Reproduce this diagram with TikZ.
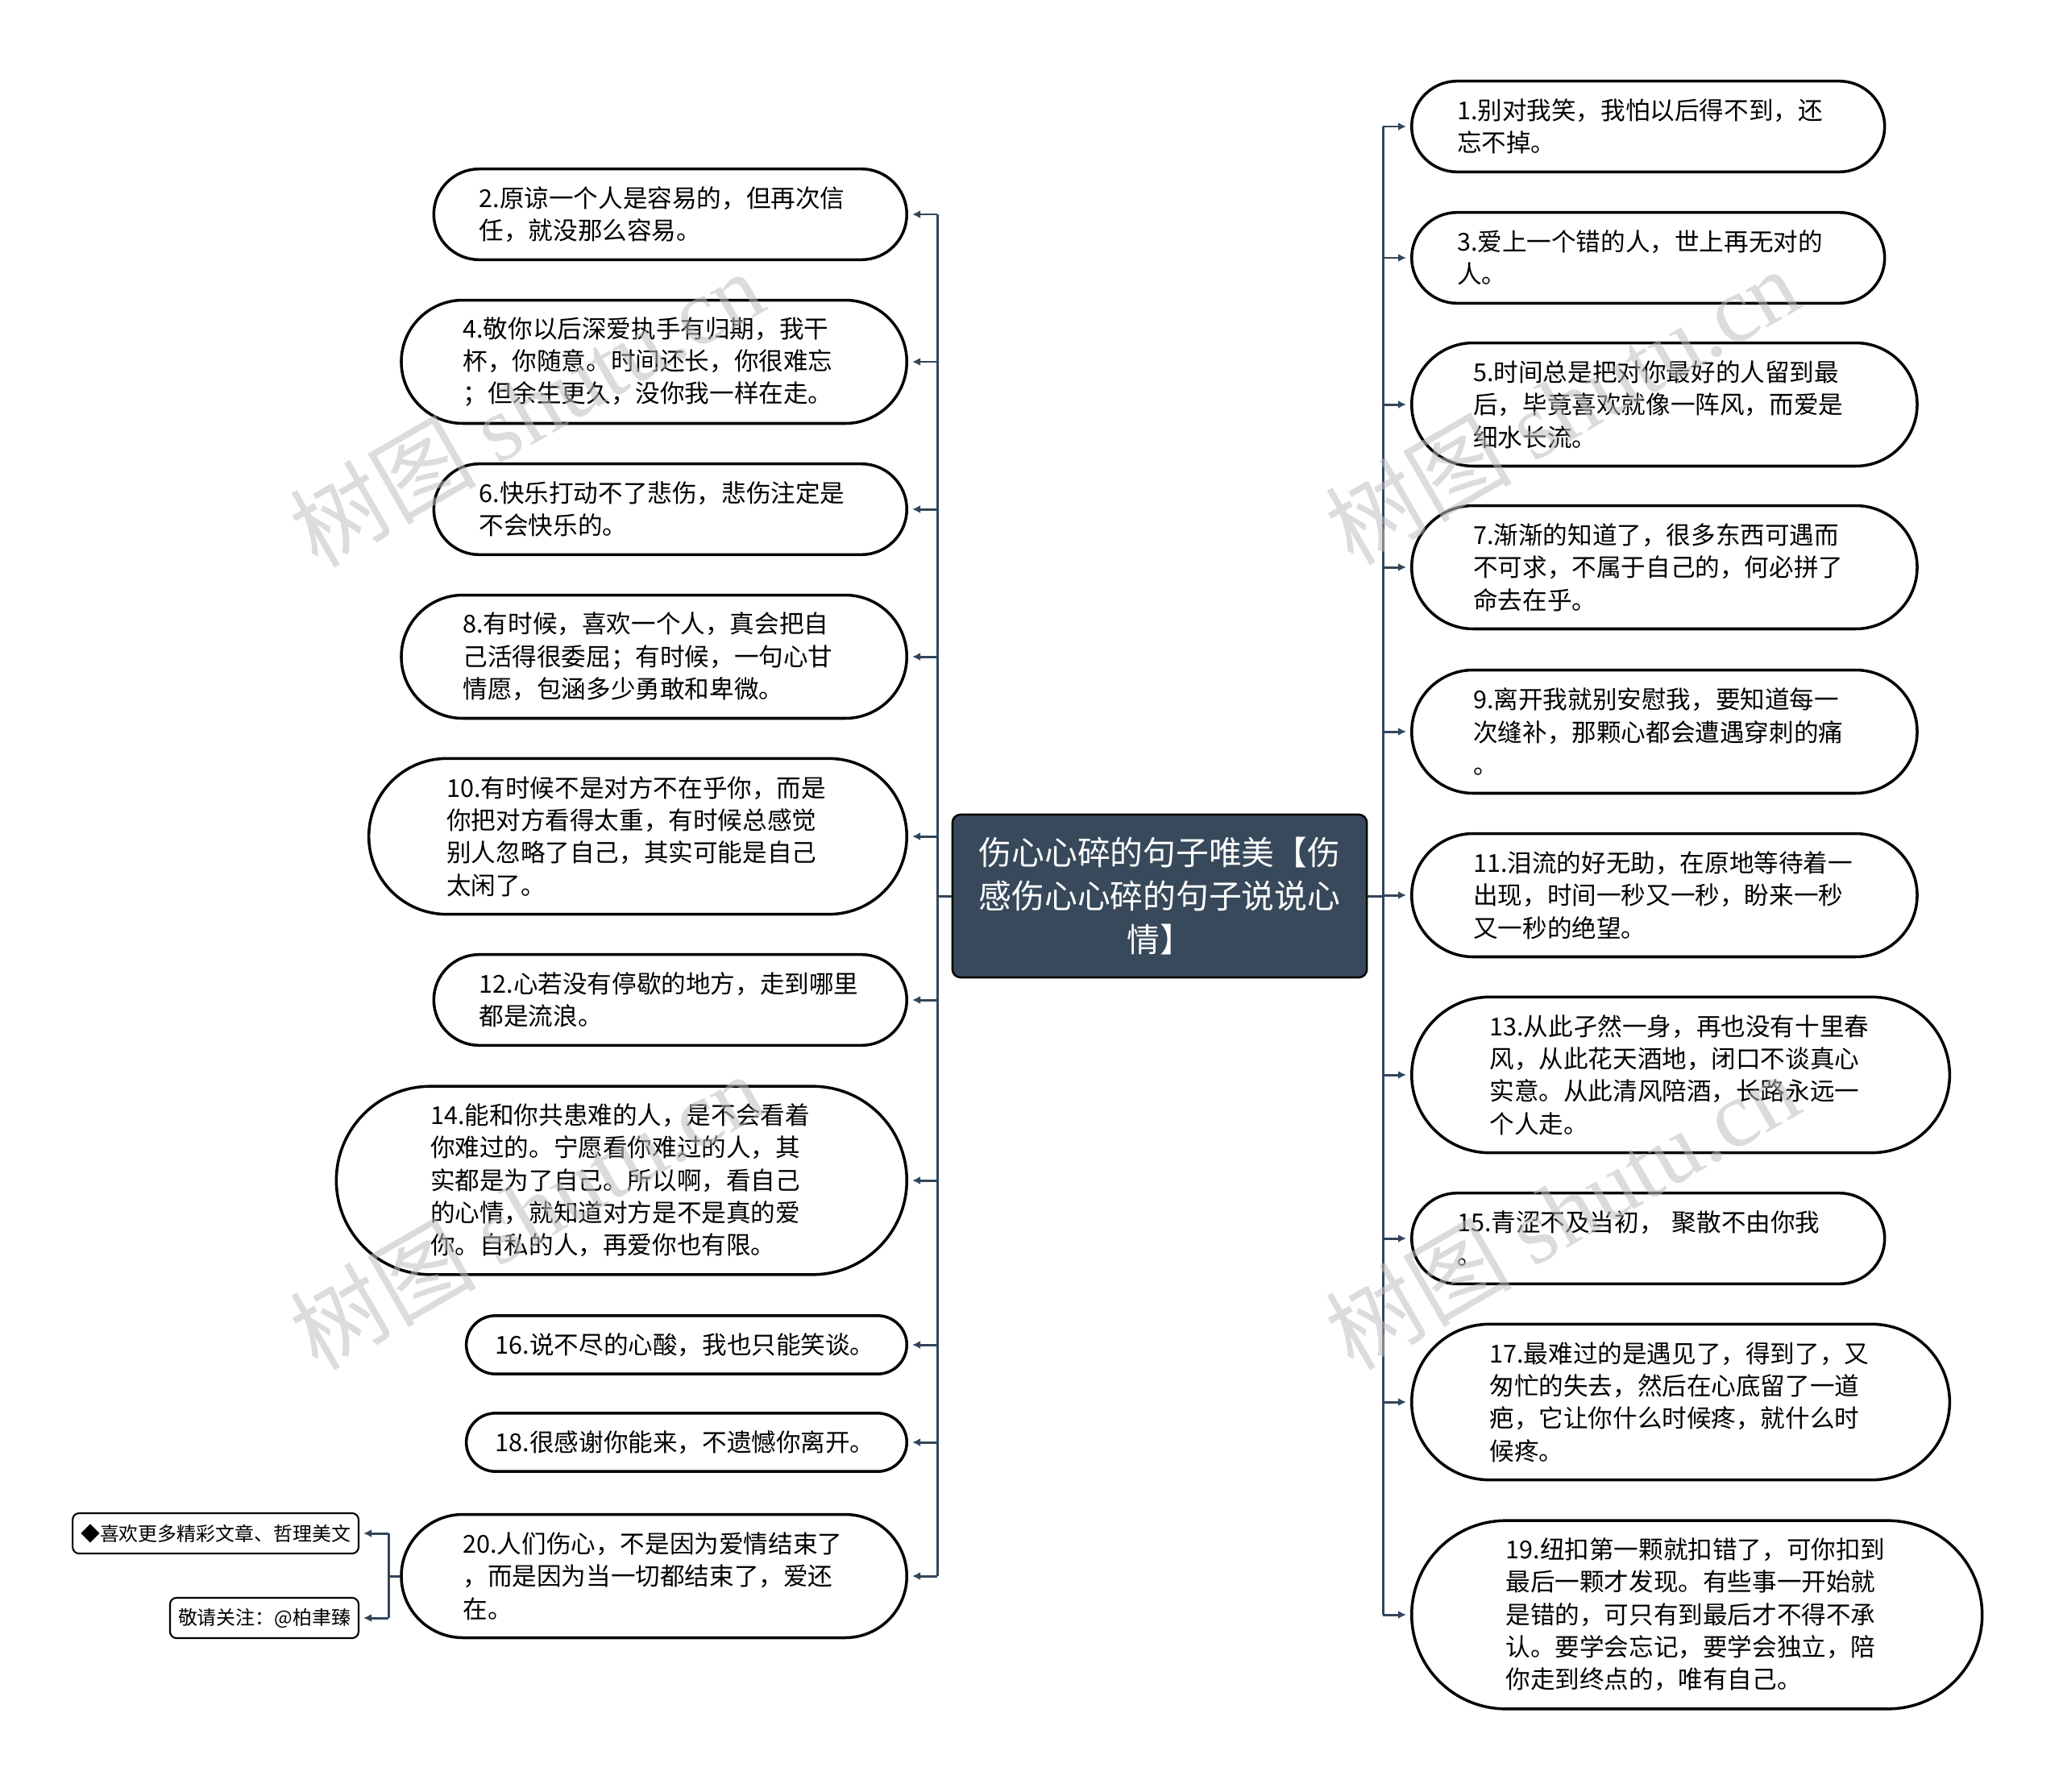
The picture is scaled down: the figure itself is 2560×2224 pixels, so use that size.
\documentclass[tikz,border=0pt]{standalone}
\usepackage{fontspec}
\setmainfont{Noto Sans CJK SC}
\newfontfamily\wmlatin{Liberation Serif}
\usetikzlibrary{arrows.meta}
\definecolor{slate}{RGB}{50,70,90}
\definecolor{hubfill}{RGB}{55,73,90}
\begin{document}
\begin{tikzpicture}[x=0.01cm,y=-0.01cm,
  >={Latex[length=0.1cm,width=0.1cm]},
  item/.style={draw=black,line width=1pt,fill=white,
    text width=4.74cm,inner xsep=0pt,inner ysep=0pt,align=left,
    font=\fontsize{8.7}{11.47}\selectfont,
    minimum height={0.32cm+#1*0.403cm},minimum width={5.06cm+#1*0.403cm},
    rounded corners={0.16cm+#1*0.2015cm}},
  hub/.style={draw=black,line width=0.7pt,fill=hubfill,text=white,rounded corners=0.1cm,
    minimum width=5.14cm,minimum height=2.02cm,text width=4.8cm,align=center,
    font=\fontsize{11.6}{15.3}\selectfont},
  tag/.style={draw=black,line width=0.6pt,fill=white,rounded corners=0.08cm,
    minimum height=0.5cm,inner xsep=0.1cm,font=\fontsize{6.8}{8}\selectfont},
  link/.style={slate,line width=0.85pt},
  wmark/.style={rotate=30,text=black!25,opacity=0.55,font=\fontsize{33}{36}\selectfont}]
\useasboundingbox (0,0) rectangle (2560,2224);

\node[hub] (hub) at (1439,1112) {伤心心碎的句子唯美【伤\\感伤心心碎的句子说说心\\情】};

% left side
\node[item=2,anchor=east] (l2) at (1127,266) {2.原谅一个人是容易的，但再次信\\任，就没那么容易。};
\node[item=3,anchor=east] (l4) at (1127,449) {4.敬你以后深爱执手有归期，我干\\杯，你随意。时间还长，你很难忘\\；但余生更久，没你我一样在走。};
\node[item=2,anchor=east] (l6) at (1127,632) {6.快乐打动不了悲伤，悲伤注定是\\不会快乐的。};
\node[item=3,anchor=east] (l8) at (1127,815) {8.有时候，喜欢一个人，真会把自\\己活得很委屈；有时候，一句心甘\\情愿，包涵多少勇敢和卑微。};
\node[item=4,anchor=east] (l10) at (1127,1038) {10.有时候不是对方不在乎你，而是\\你把对方看得太重，有时候总感觉\\别人忽略了自己，其实可能是自己\\太闲了。};
\node[item=2,anchor=east] (l12) at (1127,1241) {12.心若没有停歇的地方，走到哪里\\都是流浪。};
\node[item=5,anchor=east] (l14) at (1127,1465) {14.能和你共患难的人，是不会看着\\你难过的。宁愿看你难过的人，其\\实都是为了自己。所以啊，看自己\\的心情，就知道对方是不是真的爱\\你。自私的人，再爱你也有限。};
\node[item=1,anchor=east] (l16) at (1127,1669) {16.说不尽的心酸，我也只能笑谈。};
\node[item=1,anchor=east] (l18) at (1127,1790) {18.很感谢你能来，不遗憾你离开。};
\node[item=3,anchor=east] (l20) at (1127,1956) {20.人们伤心，不是因为爱情结束了\\，而是因为当一切都结束了，爱还\\在。};

\node[tag,anchor=east] (tagA) at (446,1903) {◆喜欢更多精彩文章、哲理美文};
\node[tag,anchor=east] (tagB) at (446,2008) {敬请关注：@柏聿臻};

% right side
\node[item=2,anchor=west] (r1) at (1750,157) {1.别对我笑，我怕以后得不到，还\\忘不掉。};
\node[item=2,anchor=west] (r3) at (1750,320) {3.爱上一个错的人，世上再无对的\\人。};
\node[item=3,anchor=west] (r5) at (1750,502) {5.时间总是把对你最好的人留到最\\后，毕竟喜欢就像一阵风，而爱是\\细水长流。};
\node[item=3,anchor=west] (r7) at (1750,704) {7.渐渐的知道了，很多东西可遇而\\不可求，不属于自己的，何必拼了\\命去在乎。};
\node[item=3,anchor=west] (r9) at (1750,908) {9.离开我就别安慰我，要知道每一\\次缝补，那颗心都会遭遇穿刺的痛\\。};
\node[item=3,anchor=west] (r11) at (1750,1111) {11.泪流的好无助，在原地等待着一\\出现，时间一秒又一秒，盼来一秒\\又一秒的绝望。};
\node[item=4,anchor=west] (r13) at (1750,1334) {13.从此孑然一身，再也没有十里春\\风，从此花天酒地，闭口不谈真心\\实意。从此清风陪酒，长路永远一\\个人走。};
\node[item=2,anchor=west] (r15) at (1750,1537) {15.青涩不及当初， 聚散不由你我\\。};
\node[item=4,anchor=west] (r17) at (1750,1740) {17.最难过的是遇见了，得到了，又\\匆忙的失去，然后在心底留了一道\\疤，它让你什么时候疼，就什么时\\候疼。};
\node[item=5,anchor=west] (r19) at (1750,2004) {19.纽扣第一颗就扣错了，可你扣到\\最后一颗才发现。有些事一开始就\\是错的，可只有到最后才不得不承\\认。要学会忘记，要学会独立，陪\\你走到终点的，唯有自己。};

% connectors
\coordinate (lspine) at (1163,1112);
\coordinate (rspine) at (1716,1112);
\coordinate (tagspine) at (482,1956);
\draw[link] (hub.west) -- (lspine);
\draw[link] (hub.east) -- (rspine);
\draw[link] (lspine |- l2.east) -- (lspine |- l20.east);
\draw[link] (rspine |- r1.west) -- (rspine |- r19.west);
\foreach \n in {2,4,...,20}
  \draw[link,->,shorten >=0.05cm] (lspine |- l\n.east) -- (l\n.east);
\foreach \n in {1,3,...,19}
  \draw[link,->,shorten >=0.05cm] (rspine |- r\n.west) -- (r\n.west);
\draw[link] (l20.west) -- (tagspine);
\draw[link] (tagspine |- tagA.east) -- (tagspine |- tagB.east);
\draw[link,->,shorten >=0.05cm] (tagspine |- tagA.east) -- (tagA.east);
\draw[link,->,shorten >=0.05cm] (tagspine |- tagB.east) -- (tagB.east);

% watermarks
\foreach \p in {(653,506),(1938,503),(653,1502),(1938,1502)}
  \node[wmark] at \p {树图 {\wmlatin shutu.cn}};
\end{tikzpicture}
\end{document}
